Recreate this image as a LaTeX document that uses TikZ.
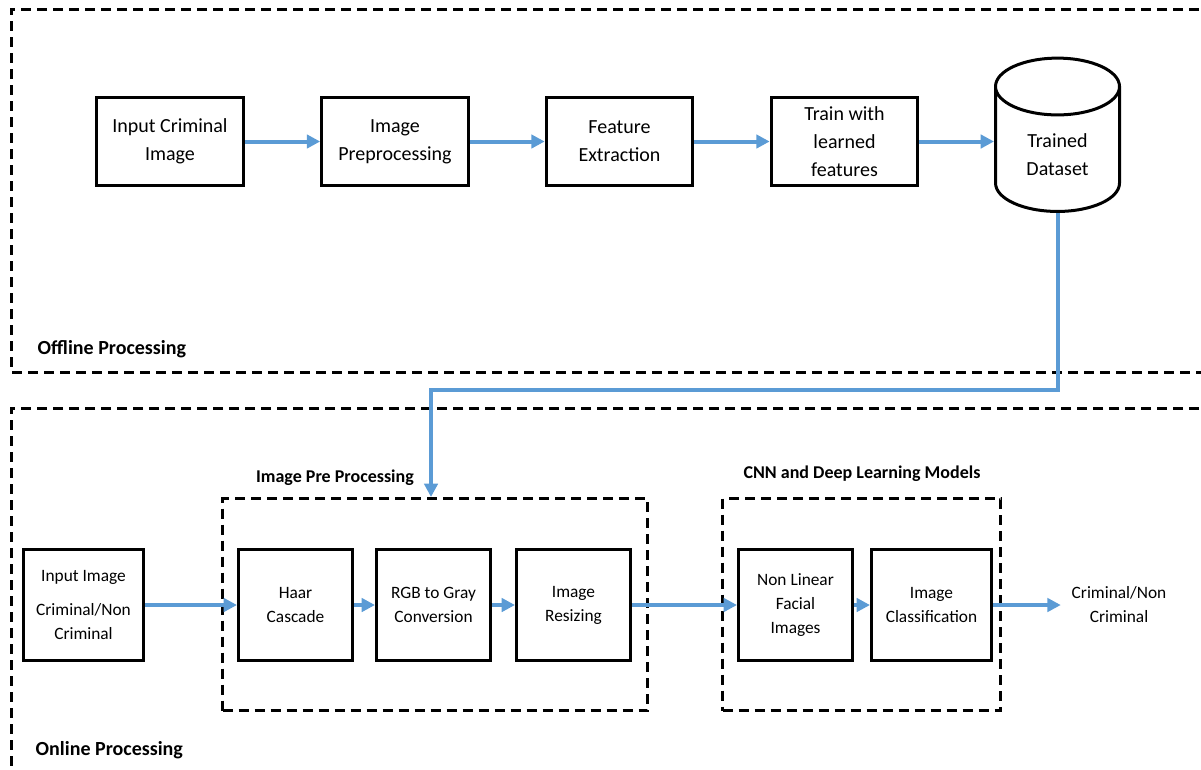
\documentclass[tikz,border=0pt]{standalone}
\usepackage{fontspec}
\setmainfont{Carlito}
\usetikzlibrary{positioning}
\usetikzlibrary{arrows.meta, shapes.geometric}
\definecolor{flowblue}{HTML}{5B9BD5}

\begin{document}
\begin{tikzpicture}[
        x = 0.75pt, y = -0.75pt, % one unit per pixel, y going down
        > = {Triangle[length=10pt, width=10pt]}, % arrow head style
        box/.style = {draw, line width=2.25pt, align=center},
        bigtext/.style = {font=\fontsize{15}{21}\selectfont},
        smalltext/.style = {font=\fontsize{13}{18}\selectfont},
        dashline/.style = {draw, line width=2.25pt, dash pattern=on 7.5pt off 4.5pt},
        flow/.style = {draw=flowblue, line width=3pt, ->}
        ]
  \useasboundingbox (0,0) rectangle (1201,769);

  % offline and online areas (cut at the page edge)
  \draw[dashline] (1215,9) -- (11,9) -- (11,372) -- (1215,372);
  \draw[dashline] (1215,408) -- (11,408) -- (11,785);
  \node[anchor=base west, font=\fontsize{15}{18}\selectfont\bfseries] (offlbl) at (33,354) {Offline Processing};
  \node[anchor=base west, font=\fontsize{15}{18}\selectfont\bfseries] (onlbl) at (31,755) {Online Processing};

  % offline chain
  \node[box, bigtext, minimum width=110pt, minimum height=66pt] (input) at (170,141.5) {Input Criminal\\Image};
  \node[box, bigtext, minimum width=110pt, minimum height=66pt] (prepro) at (395,141.5) {Image\\Preprocessing};
  \node[box, bigtext, minimum width=110pt, minimum height=66pt] (feat) at (619.5,141.5) {Feature\\Extraction};
  \node[box, bigtext, minimum width=110pt, minimum height=66pt] (train) at (844.5,141.5) {Train with\\learned\\features};
  \node[cylinder, shape border rotate=90, draw, line width=2.25pt, align=center, bigtext,
        minimum width=93pt, minimum height=115pt, aspect=0.8] (db) at (1057.5,155) {Trained\\Dataset};

  \draw[flow] (input) -- (prepro);
  \draw[flow] (prepro) -- (feat);
  \draw[flow] (feat) -- (train);
  \draw[flow] (train) -- (train -| db.west);

  % online chain
  \node[dashline, minimum width=318.75pt, minimum height=159pt] (prep) at (435,604.5) {};
  \node[dashline, minimum width=208.5pt, minimum height=159pt] (cnn) at (861.5,604.5) {};
  \node[anchor=base, font=\fontsize{13.5}{16}\selectfont\bfseries] (preplbl) at (335,482) {Image Pre Processing};
  \node[anchor=base, font=\fontsize{13.5}{16}\selectfont\bfseries] (cnnlbl) at (862,478) {CNN and Deep Learning Models};

  \node[box, smalltext, minimum width=90pt, minimum height=83pt] (inimg) at (83.5,605) {Input Image\\[8pt]Criminal/Non\\Criminal};
  \node[box, smalltext, minimum width=85.5pt, minimum height=83pt] (haar) at (295.5,605) {Haar\\Cascade};
  \node[box, smalltext, minimum width=85.5pt, minimum height=83pt] (gray) at (433.5,605) {RGB to Gray\\Conversion};
  \node[box, smalltext, minimum width=85.5pt, minimum height=83pt] (resize) at (573.5,605) {Image\\Resizing};
  \node[box, smalltext, minimum width=85.5pt, minimum height=83pt] (nonlin) at (795.5,605) {Non Linear\\Facial\\Images};
  \node[box, smalltext, minimum width=90pt, minimum height=83pt] (classif) at (931.5,605) {Image\\Classification};
  \node[smalltext, align=center, inner xsep=8pt] (result) at (1119,605) {Criminal/Non\\Criminal};

  \draw[flow] (inimg) -- (haar);
  \draw[flow] (haar) -- (gray);
  \draw[flow] (gray) -- (resize);
  \draw[flow] (resize) -- (nonlin);
  \draw[flow] (nonlin) -- (classif);
  \draw[flow] (classif) -- (result);

  % trained data feeds the online stage
  \coordinate (bend) at (431,390);
  \draw[flow] (db.south) -- (db.south |- bend) -- (bend) -- (bend |- prep.north);

\end{tikzpicture}
\end{document}
